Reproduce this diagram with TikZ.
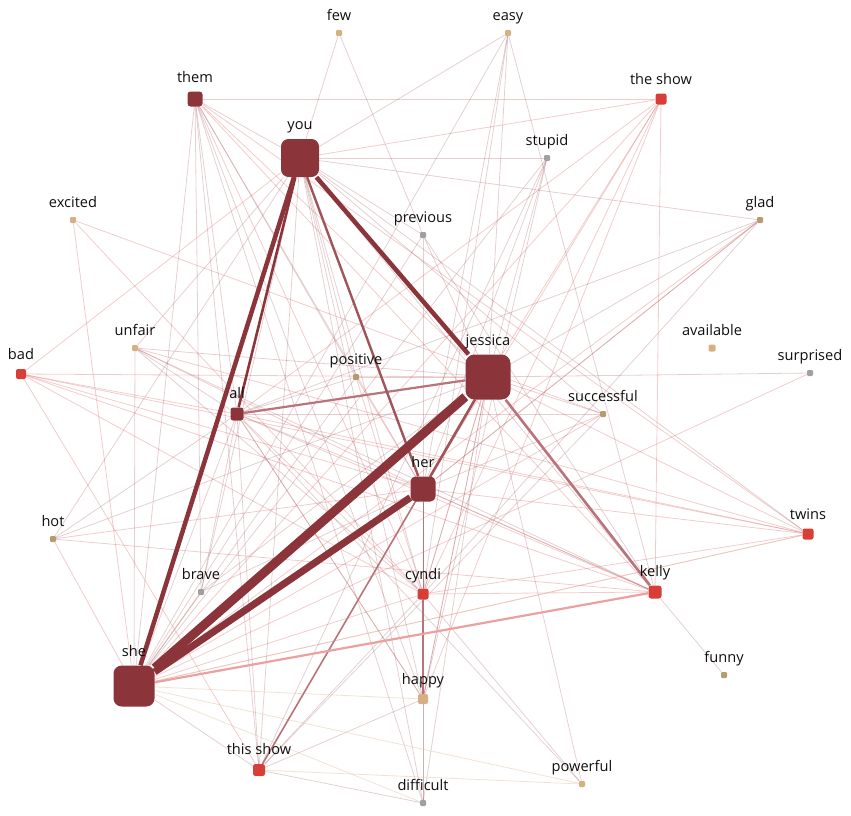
\documentclass[tikz,border=0pt]{standalone}
\usepackage{fontspec}
\setmainfont{Open Sans}
\pgfdeclarelayer{bg}
\pgfsetlayers{bg,main}
\definecolor{dk}{RGB}{139,52,58}
\definecolor{rd}{RGB}{215,62,56}
\definecolor{tl}{RGB}{214,176,130}
\definecolor{td}{RGB}{181,155,110}
\definecolor{gr}{RGB}{160,160,160}
\definecolor{txt}{RGB}{15,15,15}
\definecolor{pk}{RGB}{222,120,120}
\definecolor{mv}{RGB}{160,85,90}
\definecolor{bg1}{RGB}{225,190,160}
\definecolor{md}{RGB}{160,85,90}
\definecolor{md2}{RGB}{185,115,122}
\definecolor{lr}{RGB}{236,160,160}
\tikzset{
  sq/.style={rectangle, inner sep=0pt, draw=none},
  lbl/.style={anchor=base, inner sep=0pt, text=txt, font=\fontsize{14.6}{17}\selectfont},
  pe/.style={draw=pk, opacity=0.38, line width=0.8pt},
  me/.style={draw=mv, opacity=0.28, line width=0.8pt},
  be/.style={draw=bg1, opacity=0.45, line width=0.8pt},
  tk/.style={draw=dk},
  mde/.style={draw=md},
  mde2/.style={draw=md2},
  lre/.style={draw=lr},
}
\newcommand\gnode[6]{%
  \node[sq, minimum size=#4pt, rounded corners=#4*0.2pt, fill=#5] (#1) at (#2,#3) {};
  \node[lbl] (#1l) at ([yshift=9pt]#1.north) {#6};}
\begin{document}
\begin{tikzpicture}[x=1pt,y=-1pt]
\useasboundingbox (0,0) rectangle (851,816);
\gnode{few}{339}{33}{6}{tl}{few}
\gnode{easy}{508}{33}{6}{tl}{easy}
\gnode{them}{195}{99}{15}{dk}{them}
\gnode{theshow}{661}{99}{11}{rd}{the show}
\gnode{you}{300}{158}{38}{dk}{you}
\gnode{stupid}{547}{158}{6}{gr}{stupid}
\gnode{excited}{73}{220}{6}{tl}{excited}
\gnode{previous}{423}{235}{6}{gr}{previous}
\gnode{glad}{760}{220}{6}{td}{glad}
\gnode{available}{712}{348}{7}{tl}{available}
\gnode{surprised}{810}{373}{6}{gr}{surprised}
\gnode{unfair}{135}{348}{6}{tl}{unfair}
\gnode{bad}{21}{374}{10}{rd}{bad}
\gnode{positive}{356}{377}{6}{td}{positive}
\gnode{jessica}{488}{377}{45}{dk}{jessica}
\gnode{all}{237}{414}{13}{dk}{all}
\gnode{successful}{603}{414}{6}{td}{successful}
\gnode{her}{423}{489}{25}{dk}{her}
\gnode{hot}{53}{539}{6}{td}{hot}
\gnode{twins}{808}{534}{11}{rd}{twins}
\gnode{brave}{201}{592}{6}{gr}{brave}
\gnode{cyndi}{423}{594}{11}{rd}{cyndi}
\gnode{kelly}{655}{592}{13}{rd}{kelly}
\gnode{she}{134}{686}{41}{dk}{she}
\gnode{funny}{724}{675}{6}{td}{funny}
\gnode{happy}{423}{699}{10}{tl}{happy}
\gnode{thisshow}{259}{770}{12}{rd}{this show}
\gnode{powerful}{582}{784}{6}{tl}{powerful}
\gnode{difficult}{423}{803}{6}{gr}{difficult}
\begin{pgfonlayer}{bg}
% thin pink edges
\foreach \a/\b in {them/theshow, them/twins, them/kelly, them/cyndi, them/jessica,
  theshow/you, theshow/jessica, theshow/all, theshow/she, theshow/her, theshow/kelly, theshow/cyndi, theshow/happy,
  bad/jessica, bad/her, bad/cyndi, bad/kelly, bad/twins, bad/all, bad/thisshow, bad/you,
  twins/jessica, twins/all, twins/her, twins/cyndi, twins/she, twins/unfair,
  kelly/all, kelly/cyndi, kelly/her, kelly/hot,
  cyndi/she, cyndi/all, cyndi/jessica, cyndi/her, cyndi/positive,
  she/surprised, she/successful, she/glad, she/hot, she/excited,
  happy/her, happy/jessica, happy/all,
  her/unfair, her/positive, her/hot, her/glad, excited/successful, excited/cyndi}
  \draw[pe] (\a) -- (\b);
% thin mauve edges
\foreach \a/\b in {them/you, them/all, them/she, them/brave, them/thisshow, them/her, them/happy, them/positive, them/difficult,
  you/few, you/easy, you/stupid, you/glad, you/unfair, you/hot, you/brave, you/thisshow, you/cyndi, you/happy, you/kelly, you/twins, you/successful, you/positive, you/previous, you/difficult,
  few/previous,
  easy/she, easy/her, easy/jessica, easy/cyndi, easy/kelly,
  stupid/she, stupid/her, stupid/happy, stupid/thisshow,
  glad/jessica, glad/her, glad/cyndi, glad/all,
  previous/happy, previous/she, previous/kelly,
  unfair/jessica, unfair/all, unfair/she, unfair/kelly, unfair/cyndi,
  positive/jessica, positive/she, positive/all,
  hot/jessica, hot/all,
  brave/jessica, brave/her, brave/she,
  successful/all, successful/her, successful/thisshow,
  surprised/jessica,
  jessica/happy, jessica/difficult, jessica/powerful, jessica/cyndi, jessica/successful, jessica/stupid, jessica/previous,
  her/difficult, her/all, her/cyndi, her/kelly,
  all/thisshow, all/brave, all/happy, all/powerful, all/she,
  kelly/funny,
  thisshow/she, thisshow/happy, thisshow/cyndi,
  difficult/happy, difficult/thisshow, powerful/cyndi}
  \draw[me] (\a) -- (\b);
% beige edges
\foreach \a/\b in {she/happy, she/difficult, she/powerful, she/twins, thisshow/powerful, she/brave}
  \draw[be] (\a) -- (\b);
% strong edges
\draw[mde2, line width=2.2pt] (jessica) -- (all);
\draw[mde2, line width=2.6pt] (jessica) -- (kelly);
\draw[mde2, line width=1.6pt] (jessica) -- (thisshow);
\draw[mde2, line width=1.8pt] (cyndi) -- (happy);
\draw[lre, line width=2.2pt] (she) -- (kelly);
\draw[mde, line width=2.6pt] (jessica) -- (her);
\draw[mde, line width=2.4pt] (you) -- (her);
\draw[tk, line width=2.6pt] (you) -- (all);
\draw[tk, line width=4.5pt] (she) -- (you);
\draw[tk, line width=4.5pt] (you) -- (jessica);
\draw[tk, line width=7pt] (she) -- (her);
\draw[tk, line width=9pt] (she) -- (jessica);
\end{pgfonlayer}
\end{tikzpicture}
\end{document}
